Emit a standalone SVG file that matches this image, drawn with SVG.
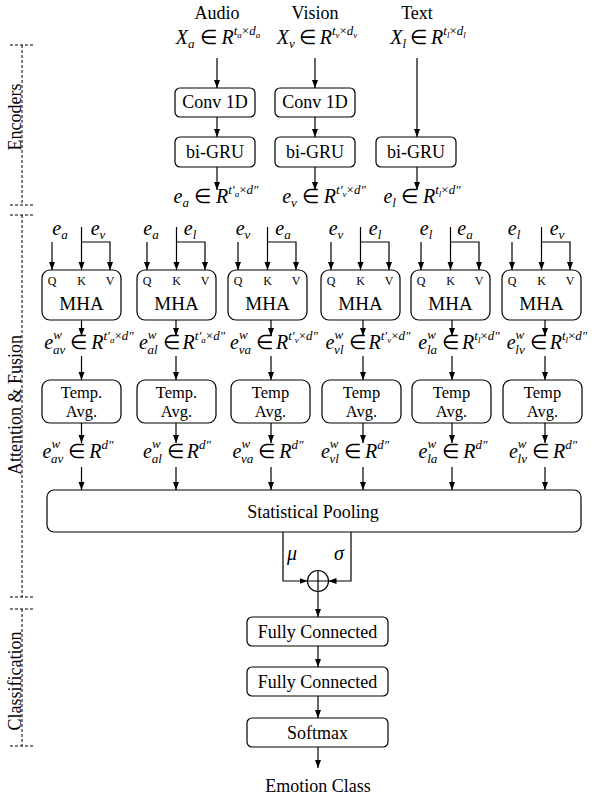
<svg xmlns="http://www.w3.org/2000/svg" width="594" height="796" viewBox="0 0 594 796">
<defs>
<style>
.t{font-family:"Liberation Serif","Times New Roman",serif;font-size:18px;fill:#000;text-anchor:middle}
.tt{font-family:"Liberation Serif","Times New Roman",serif;font-size:16.5px;fill:#000;text-anchor:middle}
.q{font-family:"Liberation Serif","Times New Roman",serif;font-size:12px;fill:#000;text-anchor:middle}
.mh{font-family:"Liberation Serif","Times New Roman",serif;font-size:19px;fill:#000;text-anchor:middle}
.m{font-family:"Liberation Serif","Times New Roman",serif;font-style:italic;font-size:20px;fill:#000;text-anchor:middle}
.s{font-size:13px}
.ss{font-size:9px}
.up{font-style:normal}
.box{fill:#fff;stroke:#000;stroke-width:1.2}
.c{fill:none;stroke:#000;stroke-width:1.2}
.a{fill:none;stroke:#000;stroke-width:1.2;marker-end:url(#ah)}
.d{fill:none;stroke:#000;stroke-width:1;stroke-dasharray:3 2}
</style>
<marker id="ah" viewBox="0 0 8 8" refX="8" refY="4" markerWidth="8" markerHeight="8" markerUnits="userSpaceOnUse" orient="auto"><path d="M0,1 L8,4 L0,7 z" fill="#000"/></marker>
</defs>
<rect width="594" height="796" fill="#fff"/>

<g id="brackets">
<path class="d" d="M22,45 V205 M10,45 H33 M10,205 H33"/>
<path class="d" d="M22,215 V597 M10,215 H33 M10,597 H33"/>
<path class="d" d="M22,609 V746 M10,609 H33 M10,746 H33"/>
<text class="t" transform="translate(21,117) rotate(-90)">Encoders</text>
<text class="t" transform="translate(21,405) rotate(-90)">Attention &amp; Fusion</text>
<text class="t" transform="translate(21,681) rotate(-90)">Classification</text>
</g>

<g id="inputs">
<text class="t" x="217" y="19">Audio</text>
<text class="t" x="315" y="19">Vision</text>
<text class="t" x="417" y="19">Text</text>
<text class="m" x="218" y="44">X<tspan class="s" dy="4">a</tspan><tspan class="up" dy="-4" dx="5">∈</tspan><tspan dx="5">R</tspan><tspan class="s" dy="-9">t</tspan><tspan class="ss" dy="3">a</tspan><tspan class="s up" dy="-3">×</tspan><tspan class="s">d</tspan><tspan class="ss" dy="3">a</tspan></text>
<text class="m" x="317" y="44">X<tspan class="s" dy="4">v</tspan><tspan class="up" dy="-4" dx="4">∈</tspan><tspan dx="4">R</tspan><tspan class="s" dy="-9">t</tspan><tspan class="ss" dy="3">v</tspan><tspan class="s up" dy="-3">×</tspan><tspan class="s">d</tspan><tspan class="ss" dy="3">v</tspan></text>
<text class="m" x="428" y="44">X<tspan class="s" dy="4">l</tspan><tspan class="up" dy="-4" dx="4">∈</tspan><tspan dx="4">R</tspan><tspan class="s" dy="-9">t</tspan><tspan class="ss" dy="3">l</tspan><tspan class="s up" dy="-3">×</tspan><tspan class="s">d</tspan><tspan class="ss" dy="3">l</tspan></text>
</g>

<g id="conv-audio"><rect class="box" x="175" y="88" width="80" height="29" rx="5"/><text class="t" x="215" y="108">Conv 1D</text></g>
<g id="conv-vision"><rect class="box" x="275" y="88" width="80" height="29" rx="5"/><text class="t" x="315" y="108">Conv 1D</text></g>
<g id="gru-audio"><rect class="box" x="175" y="137" width="80" height="30" rx="5"/><text class="t" x="215" y="158">bi-GRU</text></g>
<g id="gru-vision"><rect class="box" x="275" y="137" width="80" height="30" rx="5"/><text class="t" x="315" y="158">bi-GRU</text></g>
<g id="gru-text"><rect class="box" x="376" y="137" width="80" height="30" rx="5"/><text class="t" x="416" y="158">bi-GRU</text></g>

<g id="encodings">
<text class="m" x="216" y="203">e<tspan class="s" dy="4">a</tspan><tspan class="up" dy="-4" dx="5">∈</tspan><tspan dx="5">R</tspan><tspan class="s" dy="-9">t′</tspan><tspan class="ss" dy="3">a</tspan><tspan class="s up" dy="-3">×</tspan><tspan class="s">d″</tspan></text>
<text class="m" x="324" y="203">e<tspan class="s" dy="4">v</tspan><tspan class="up" dy="-4" dx="5">∈</tspan><tspan dx="5">R</tspan><tspan class="s" dy="-9">t′</tspan><tspan class="ss" dy="3">v</tspan><tspan class="s up" dy="-3">×</tspan><tspan class="s">d″</tspan></text>
<text class="m" x="422" y="203">e<tspan class="s" dy="4">l</tspan><tspan class="up" dy="-4" dx="5">∈</tspan><tspan dx="5">R</tspan><tspan class="s" dy="-9">t</tspan><tspan class="ss" dy="3">l</tspan><tspan class="s up" dy="-3">×</tspan><tspan class="s">d″</tspan></text>
</g>

<g id="mha-labels">
<text class="m" x="60" y="235">e<tspan class="s" dy="4">a</tspan></text>
<text class="m" x="98" y="235">e<tspan class="s" dy="4">v</tspan></text>
<text class="m" x="151" y="235">e<tspan class="s" dy="4">a</tspan></text>
<text class="m" x="190" y="235">e<tspan class="s" dy="4">l</tspan></text>
<text class="m" x="243" y="235">e<tspan class="s" dy="4">v</tspan></text>
<text class="m" x="283" y="235">e<tspan class="s" dy="4">a</tspan></text>
<text class="m" x="336" y="235">e<tspan class="s" dy="4">v</tspan></text>
<text class="m" x="375" y="235">e<tspan class="s" dy="4">l</tspan></text>
<text class="m" x="426" y="235">e<tspan class="s" dy="4">l</tspan></text>
<text class="m" x="465" y="235">e<tspan class="s" dy="4">a</tspan></text>
<text class="m" x="514" y="235">e<tspan class="s" dy="4">l</tspan></text>
<text class="m" x="557" y="235">e<tspan class="s" dy="4">v</tspan></text>
</g>

<g id="mha-av"><rect class="box" x="42" y="270" width="79" height="50" rx="8"/><text class="q" x="52" y="285">Q</text><text class="q" x="81.5" y="285">K</text><text class="q" x="110" y="285">V</text><text class="mh" x="81.5" y="310">MHA</text></g>
<g id="mha-al"><rect class="box" x="137" y="270" width="79" height="50" rx="8"/><text class="q" x="147" y="285">Q</text><text class="q" x="176.5" y="285">K</text><text class="q" x="205" y="285">V</text><text class="mh" x="176.5" y="310">MHA</text></g>
<g id="mha-va"><rect class="box" x="228" y="270" width="79" height="50" rx="8"/><text class="q" x="238" y="285">Q</text><text class="q" x="267.5" y="285">K</text><text class="q" x="296" y="285">V</text><text class="mh" x="267.5" y="310">MHA</text></g>
<g id="mha-vl"><rect class="box" x="321" y="270" width="79" height="50" rx="8"/><text class="q" x="331" y="285">Q</text><text class="q" x="360.5" y="285">K</text><text class="q" x="389" y="285">V</text><text class="mh" x="360.5" y="310">MHA</text></g>
<g id="mha-la"><rect class="box" x="411" y="270" width="79" height="50" rx="8"/><text class="q" x="421" y="285">Q</text><text class="q" x="450.5" y="285">K</text><text class="q" x="479" y="285">V</text><text class="mh" x="450.5" y="310">MHA</text></g>
<g id="mha-lv"><rect class="box" x="502" y="270" width="79" height="50" rx="8"/><text class="q" x="512" y="285">Q</text><text class="q" x="541.5" y="285">K</text><text class="q" x="570" y="285">V</text><text class="mh" x="541.5" y="310">MHA</text></g>

<g id="mha-outputs">
<text class="m" x="89" y="349">e<tspan class="s" dy="-10">w</tspan><tspan class="s" dx="-9" dy="15">av</tspan><tspan class="up" dy="-5" dx="5">∈</tspan><tspan dx="4">R</tspan><tspan class="s" dy="-9">t′</tspan><tspan class="ss" dy="3">a</tspan><tspan class="s up" dy="-3">×</tspan><tspan class="s">d″</tspan></text>
<text class="m" x="182" y="349">e<tspan class="s" dy="-10">w</tspan><tspan class="s" dx="-9" dy="15">al</tspan><tspan class="up" dy="-5" dx="5">∈</tspan><tspan dx="3">R</tspan><tspan class="s" dy="-9">t′</tspan><tspan class="ss" dy="3">a</tspan><tspan class="s up" dy="-3">×</tspan><tspan class="s">d″</tspan></text>
<text class="m" x="274" y="349">e<tspan class="s" dy="-10">w</tspan><tspan class="s" dx="-9" dy="15">va</tspan><tspan class="up" dy="-5" dx="5">∈</tspan><tspan dx="3">R</tspan><tspan class="s" dy="-9">t′</tspan><tspan class="ss" dy="3">v</tspan><tspan class="s up" dy="-3">×</tspan><tspan class="s">d″</tspan></text>
<text class="m" x="368" y="349">e<tspan class="s" dy="-10">w</tspan><tspan class="s" dx="-9" dy="15">vl</tspan><tspan class="up" dy="-5" dx="5">∈</tspan><tspan dx="3">R</tspan><tspan class="s" dy="-9">t′</tspan><tspan class="ss" dy="3">v</tspan><tspan class="s up" dy="-3">×</tspan><tspan class="s">d″</tspan></text>
<text class="m" x="459" y="349">e<tspan class="s" dy="-10">w</tspan><tspan class="s" dx="-9" dy="15">la</tspan><tspan class="up" dy="-5" dx="5">∈</tspan><tspan dx="3">R</tspan><tspan class="s" dy="-9">t</tspan><tspan class="ss" dy="3">l</tspan><tspan class="s up" dy="-3">×</tspan><tspan class="s">d″</tspan></text>
<text class="m" x="547" y="349">e<tspan class="s" dy="-10">w</tspan><tspan class="s" dx="-9" dy="15">lv</tspan><tspan class="up" dy="-5" dx="5">∈</tspan><tspan dx="3">R</tspan><tspan class="s" dy="-9">t</tspan><tspan class="ss" dy="3">l</tspan><tspan class="s up" dy="-3">×</tspan><tspan class="s">d″</tspan></text>
</g>

<g id="avg-av"><rect class="box" x="42" y="380" width="79" height="43" rx="8"/><text class="tt" x="81.5" y="398">Temp.</text><text class="tt" x="81.5" y="417">Avg.</text></g>
<g id="avg-al"><rect class="box" x="137" y="380" width="79" height="43" rx="8"/><text class="tt" x="176.5" y="398">Temp.</text><text class="tt" x="176.5" y="417">Avg.</text></g>
<g id="avg-va"><rect class="box" x="231" y="380" width="79" height="43" rx="8"/><text class="tt" x="270.5" y="398">Temp</text><text class="tt" x="270.5" y="417">Avg.</text></g>
<g id="avg-vl"><rect class="box" x="322" y="380" width="79" height="43" rx="8"/><text class="tt" x="361.5" y="398">Temp</text><text class="tt" x="361.5" y="417">Avg.</text></g>
<g id="avg-la"><rect class="box" x="412" y="380" width="79" height="43" rx="8"/><text class="tt" x="451.5" y="398">Temp</text><text class="tt" x="451.5" y="417">Avg.</text></g>
<g id="avg-lv"><rect class="box" x="503" y="380" width="79" height="43" rx="8"/><text class="tt" x="542.5" y="398">Temp</text><text class="tt" x="542.5" y="417">Avg.</text></g>

<g id="avg-outputs">
<text class="m" x="78" y="458">e<tspan class="s" dy="-10">w</tspan><tspan class="s" dx="-9" dy="15">av</tspan><tspan class="up" dy="-5" dx="5">∈</tspan><tspan dx="4">R</tspan><tspan class="s" dy="-9">d″</tspan></text>
<text class="m" x="177" y="458">e<tspan class="s" dy="-10">w</tspan><tspan class="s" dx="-9" dy="15">al</tspan><tspan class="up" dy="-5" dx="5">∈</tspan><tspan dx="3">R</tspan><tspan class="s" dy="-9">d″</tspan></text>
<text class="m" x="268" y="458">e<tspan class="s" dy="-10">w</tspan><tspan class="s" dx="-9" dy="15">va</tspan><tspan class="up" dy="-5" dx="5">∈</tspan><tspan dx="4">R</tspan><tspan class="s" dy="-9">d″</tspan></text>
<text class="m" x="355" y="458">e<tspan class="s" dy="-10">w</tspan><tspan class="s" dx="-9" dy="15">vl</tspan><tspan class="up" dy="-5" dx="5">∈</tspan><tspan dx="4">R</tspan><tspan class="s" dy="-9">d″</tspan></text>
<text class="m" x="453" y="458">e<tspan class="s" dy="-10">w</tspan><tspan class="s" dx="-9" dy="15">la</tspan><tspan class="up" dy="-5" dx="5">∈</tspan><tspan dx="4">R</tspan><tspan class="s" dy="-9">d″</tspan></text>
<text class="m" x="543" y="458">e<tspan class="s" dy="-10">w</tspan><tspan class="s" dx="-9" dy="15">lv</tspan><tspan class="up" dy="-5" dx="5">∈</tspan><tspan dx="4">R</tspan><tspan class="s" dy="-9">d″</tspan></text>
</g>

<g id="pooling"><rect class="box" x="47" y="490" width="534" height="42" rx="7"/><text class="t" x="313" y="518">Statistical Pooling</text></g>

<g id="concat"><circle class="c" cx="318" cy="581" r="10.5"/><path class="c" d="M318,570.5 V591.5 M307.5,581 H328.5"/>
<text class="m" x="292" y="560">μ</text><text class="m" x="339" y="560">σ</text></g>

<g id="fc1"><rect class="box" x="247" y="617" width="141" height="29" rx="5"/><text class="t" x="317.5" y="638">Fully Connected</text></g>
<g id="fc2"><rect class="box" x="247" y="667" width="141" height="29" rx="5"/><text class="t" x="317.5" y="688">Fully Connected</text></g>
<g id="softmax"><rect class="box" x="247" y="718" width="141" height="29" rx="5"/><text class="t" x="317.5" y="739">Softmax</text></g>
<g id="output"><text class="t" x="318" y="792">Emotion Class</text></g>

<g id="connectors">
<path class="a" d="M217,58 V88"/>
<path class="a" d="M315,58 V88"/>
<path class="a" d="M417,58 V137"/>
<path class="a" d="M217,117 V137"/>
<path class="a" d="M315,117 V137"/>
<path class="a" d="M217,167 V190"/>
<path class="a" d="M315,167 V190"/>
<path class="a" d="M417,167 V190"/>

<path class="a" d="M52,242 V270"/><path class="a" d="M81.5,227 V270"/><path class="a" d="M81.5,242 H110 V270"/>
<path class="a" d="M147,242 V270"/><path class="a" d="M176.5,227 V270"/><path class="a" d="M176.5,242 H205 V270"/>
<path class="a" d="M238,242 V270"/><path class="a" d="M267.5,227 V270"/><path class="a" d="M267.5,242 H296 V270"/>
<path class="a" d="M331,242 V270"/><path class="a" d="M360.5,227 V270"/><path class="a" d="M360.5,242 H389 V270"/>
<path class="a" d="M421,242 V270"/><path class="a" d="M450.5,227 V270"/><path class="a" d="M450.5,242 H479 V270"/>
<path class="a" d="M512,242 V270"/><path class="a" d="M541.5,227 V270"/><path class="a" d="M541.5,242 H570 V270"/>

<path class="a" d="M81.5,320 V336"/><path class="a" d="M176,320 V336"/><path class="a" d="M271,320 V336"/>
<path class="a" d="M363,320 V336"/><path class="a" d="M452,320 V336"/><path class="a" d="M545,320 V336"/>

<path class="a" d="M81.5,356 V380"/><path class="a" d="M176,356 V380"/><path class="a" d="M271,356 V380"/>
<path class="a" d="M363,356 V380"/><path class="a" d="M452,356 V380"/><path class="a" d="M545,356 V380"/>

<path class="a" d="M81.5,423 V443"/><path class="a" d="M176,423 V443"/><path class="a" d="M271,423 V443"/>
<path class="a" d="M363,423 V443"/><path class="a" d="M452,423 V443"/><path class="a" d="M545,423 V443"/>

<path class="a" d="M81.5,467 V490"/><path class="a" d="M176,467 V490"/><path class="a" d="M271,467 V490"/>
<path class="a" d="M363,467 V490"/><path class="a" d="M452,467 V490"/><path class="a" d="M545,467 V490"/>

<path class="a" d="M283,532 V581 H307.5"/>
<path class="a" d="M351,532 V581 H328.5"/>
<path class="a" d="M318,591.5 V617"/>
<path class="a" d="M318,646 V667"/>
<path class="a" d="M318,696 V718"/>
<path class="a" d="M318,747 V768"/>
</g>
</svg>
